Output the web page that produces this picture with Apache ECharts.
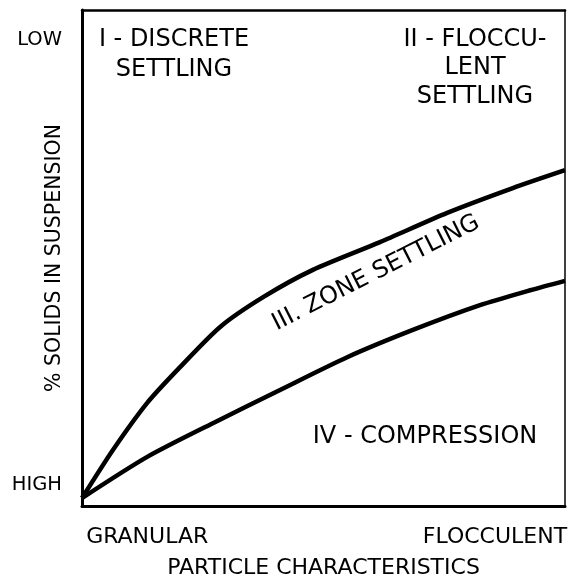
<!DOCTYPE html>
<html style="height: 100%">
   <head>
       <meta charset="utf-8">
       <script src="https://cdn.jsdelivr.net/npm/echarts@6/dist/echarts.min.js"></script>
       <title>Settling regimes</title>
   </head>
   <body style="height: 100%; margin: 0; background: #fff">
       <div id="container" style="width: 568px; height: 577px"></div>
       <script type="text/javascript">

// curves (x: 0 granular .. 100 flocculent, y: 0 high .. 100 low)
const upperCurve = [[0, 1.6], [6.4, 11.3], [13.5, 20.8], [20.3, 28.0], [28.6, 36.1], [37.5, 42.1],
                    [47.8, 47.6], [61.7, 53.2], [75.6, 59.1], [89.2, 64.1], [100, 67.7]];
const lowerCurve = [[0, 1.6], [13.5, 9.9], [27.1, 16.7], [41.0, 23.4], [54.9, 30.0],
                    [68.5, 35.5], [82.4, 40.5], [92.8, 43.5], [100, 45.4]];

// tick labels
const xTickValues = [13.5, 85.5];
const xTickLabels = ['GRANULAR', 'FLOCCULENT'];
const yTickValues = [4.2, 94];
const yTickLabels = ['HIGH', 'LOW'];

const regionLabels = ['I - DISCRETE\nSETTLING', 'II - FLOCCU-\nLENT\nSETTLING',
                      'III. ZONE SETTLING', 'IV - COMPRESSION'];

const font = '"DejaVu Sans", "Liberation Sans", sans-serif';
let dom = document.getElementById("container");
let chart = echarts.init(dom);

function labelFor(values, labels) {
  return function (v) {
    let i = values.indexOf(v);
    return i < 0 ? '' : labels[i];
  };
}

function txt(size) {
  return { fontFamily: font, fontSize: size, color: '#000' };
}
function regionText(text, extra) {
  return Object.assign({ text: text, textAlign: 'center', textVerticalAlign: 'middle',
    fontFamily: font, fontSize: 24, fill: '#000' }, extra || {});
}

chart.setOption({
  animation: false,
  grid: { left: 82, right: 3, top: 10, bottom: 71, outerBoundsMode: 'none', containLabel: false },
  xAxis: [
    {
      type: 'value', min: 0, max: 100,
      name: 'PARTICLE CHARACTERISTICS', nameLocation: 'middle', nameGap: 51.5,
      nameMoveOverlap: false,
      nameTextStyle: txt(22),
      axisLine: { show: true, onZero: false, lineStyle: { color: '#000', width: 3 } },
      axisTick: { show: false },
      splitLine: { show: false },
      axisLabel: Object.assign({ customValues: xTickValues, margin: 20,
        formatter: labelFor(xTickValues, xTickLabels) }, txt(22))
    },
    {
      type: 'value', min: 0, max: 100, position: 'top',
      axisLine: { show: true, onZero: false, lineStyle: { color: '#000', width: 2.5 } },
      axisTick: { show: false }, axisLabel: { show: false }, splitLine: { show: false }
    }
  ],
  yAxis: [
    {
      type: 'value', min: 0, max: 100,
      name: '% SOLIDS IN SUSPENSION', nameLocation: 'middle', nameGap: 17,
      nameMoveOverlap: false,
      nameTextStyle: txt(20.5),
      axisLine: { show: true, onZero: false, lineStyle: { color: '#000', width: 3 } },
      axisTick: { show: false },
      splitLine: { show: false },
      axisLabel: Object.assign({ customValues: yTickValues, margin: 20,
        formatter: labelFor(yTickValues, yTickLabels) }, txt(19.5))
    },
    {
      type: 'value', min: 0, max: 100, position: 'right',
      axisLine: { show: true, onZero: false, lineStyle: { color: '#000', width: 1.5 } },
      axisTick: { show: false }, axisLabel: { show: false }, splitLine: { show: false }
    }
  ],
  series: [
    {
      type: 'line', smooth: 0.25, showSymbol: false, data: upperCurve,
      lineStyle: { color: '#000', width: 4.5 }
    },
    {
      type: 'line', smooth: 0.25, showSymbol: false, data: lowerCurve,
      lineStyle: { color: '#000', width: 4.5 }
    }
  ],
  graphic: [
    { type: 'text', x: 174, y: 55, style: regionText(regionLabels[0], { lineHeight: 30 }) },
    { type: 'text', x: 475, y: 68, style: regionText(regionLabels[1], { lineHeight: 28.5 }) },
    { type: 'text', x: 376, y: 273, rotation: 0.47, style: regionText(regionLabels[2]) },
    { type: 'text', x: 425, y: 437, style: regionText(regionLabels[3]) }
  ]
});

       </script>
   </body>
</html>
